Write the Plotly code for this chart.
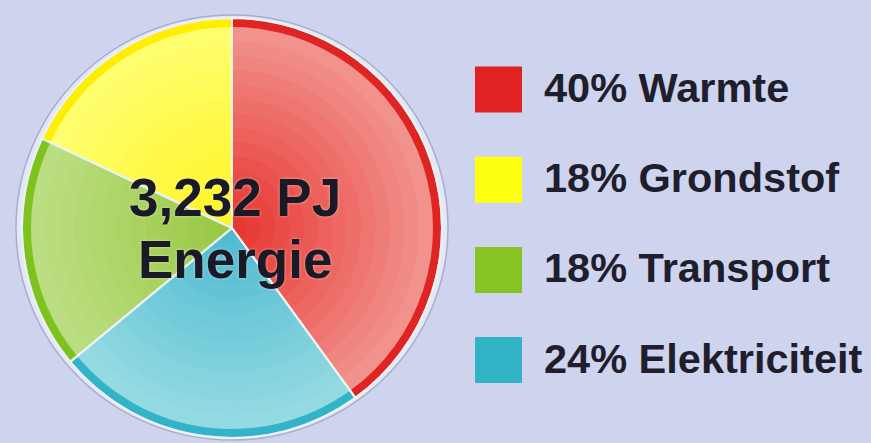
import plotly.graph_objects as go

# ---- data ----
categories = ["Warmte", "Grondstof", "Transport", "Elektriciteit"]
values = [40, 18, 18, 24]
legend_labels = ["40% Warmte", "18% Grondstof", "18% Transport", "24% Elektriciteit"]
center_lines = ["3,232 PJ", "Energie"]

# ---- styles ----
W, H = 871, 443
BG = "#CED3EE"
rim_colors = ["#E02424", "#FFEE00", "#7EC21F", "#33B3C7"]
inner_center = [(230, 48, 42), (255, 242, 30), (150, 198, 62), (72, 184, 206)]
inner_outer = [(242, 146, 140), (255, 255, 110), (188, 222, 130), (148, 218, 226)]
legend_colors = ["#E02222", "#FFFF10", "#86C424", "#30B3C4"]

CX, CY, R = 232, 228, 209
RIM = 8


def px(x):
    return x / W


def py(y):
    return 1 - y / H


def dom(r):
    return dict(x=[px(CX - r), px(CX + r)], y=[py(CY + r), py(CY - r)])


def mix(a, b, t):
    return "rgb(%d,%d,%d)" % tuple(round(a[i] + (b[i] - a[i]) * t) for i in range(3))


fig = go.Figure()

common = dict(labels=categories, values=values, sort=False, direction="counterclockwise",
              rotation=0, textinfo="none", hoverinfo="skip", showlegend=False)

# rim
fig.add_trace(go.Pie(domain=dom(R), marker=dict(colors=rim_colors, line=dict(width=0)), **common))

# radial gradient layers
N = 14
r_out = R - RIM
for k in range(N):
    r = r_out * (1 - k / N)
    t = 1 - k / N  # 1 at outer, 0 at center
    cols = [mix(inner_center[i], inner_outer[i], t) for i in range(4)]
    fig.add_trace(go.Pie(domain=dom(r), marker=dict(colors=cols, line=dict(width=0)), **common))

# separators
fig.add_trace(go.Pie(domain=dom(R + 1),
                     marker=dict(colors=["rgba(0,0,0,0)"] * 4, line=dict(color="#EAF2F2", width=2)),
                     **common))

shapes = []
# outer border circle
shapes.append(dict(type="circle", xref="paper", yref="paper", layer="below",
                   x0=px(CX - 216), x1=px(CX + 216), y0=py(CY + 212), y1=py(CY - 213),
                   fillcolor="#E4E7F5", line=dict(color="#A9ACCB", width=1.5)))

annotations = []
for i, (lab, col) in enumerate(zip(legend_labels, legend_colors)):
    yc = 89.5 + i * 90.2
    shapes.append(dict(type="rect", xref="paper", yref="paper",
                       x0=px(475), x1=px(522), y0=py(yc + 23), y1=py(yc - 23),
                       fillcolor=col, line=dict(width=0)))
    annotations.append(dict(x=px(542), y=py(yc - 2), xref="paper", yref="paper",
                            text=lab, showarrow=False, xanchor="left", yanchor="middle",
                            font=dict(family="Liberation Sans", size=41.5, color="#1E1E2C", weight="bold")))

for j, line in enumerate(center_lines):
    annotations.append(dict(x=px(235), y=py(197 + j * 62), xref="paper", yref="paper",
                            text=line, showarrow=False, xanchor="center", yanchor="middle",
                            font=dict(family="Liberation Sans", size=53, color="#1A1A26", weight="bold",
                                      shadow="0px 0px 3px rgba(255,255,255,0.55)")))

fig.update_layout(width=W, height=H, margin=dict(l=0, r=0, t=0, b=0),
                  paper_bgcolor=BG, plot_bgcolor=BG, shapes=shapes, annotations=annotations)

fig.write_html("out.html", config={"displayModeBar": False},
               post_script="document.body.style.margin='0';document.body.style.background='%s';" % BG)
